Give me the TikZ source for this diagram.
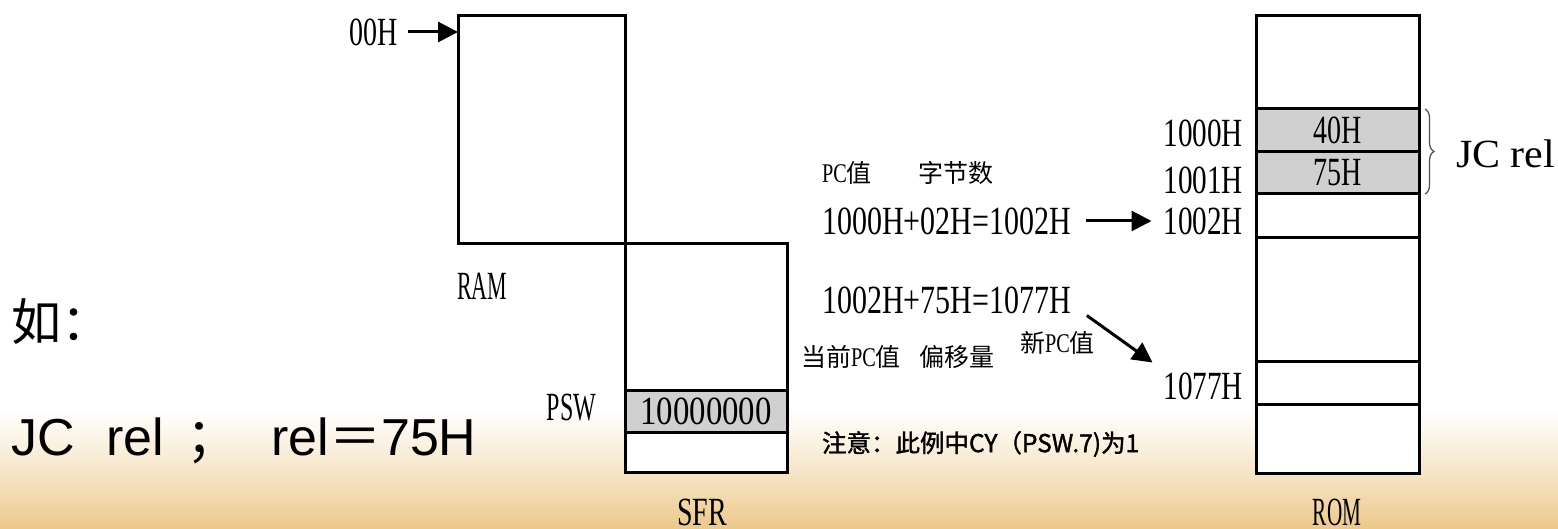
\documentclass[tikz,border=0pt]{standalone}
\usepackage{fontspec}
\usepackage{graphicx}
\setmainfont{Liberation Serif}
\newfontfamily\cjk{Noto Sans CJK SC}
\newfontfamily\cjkb[FakeBold=1.5]{Noto Sans CJK SC}
\newfontfamily\sansf{Liberation Sans}
\usetikzlibrary{arrows.meta,decorations.pathreplacing}
\definecolor{peach}{RGB}{236,201,140}
\definecolor{peachmid}{RGB}{248,234,210}
\definecolor{cellgray}{RGB}{208,208,208}
\newcommand\sq[2]{\scalebox{#1}[1]{#2}}
\newcommand\pcx{{\rmfamily\fontsize{27}{27}\selectfont\sq{0.75}{PC}}}
\begin{document}
\begin{tikzpicture}[x=1pt,y=-1pt,
  box/.style={draw, line width=3pt, fill=white, rectangle, inner sep=0pt, outer sep=0pt},
  cell/.style={draw, line width=3pt, fill=cellgray, rectangle, inner sep=0pt, outer sep=0pt, font=\fontsize{40}{40}\selectfont},
  lbl/.style={inner sep=0pt, outer sep=0pt, font=\fontsize{40}{40}\selectfont},
  clbl/.style={inner sep=0pt, outer sep=0pt, font=\cjk\fontsize{25}{25}\selectfont},
  arr/.style={line width=3pt, -{Triangle[length=20pt,width=20pt]}},
  rule/.style={line width=3pt},
]
\useasboundingbox (0,0) rectangle (1558,529);
\fill[white] (0,0) rectangle (1558,529);
\shade[top color=white, bottom color=peachmid] (0,410) rectangle (1558,462);
\shade[top color=peachmid, bottom color=peach] (0,461.5) rectangle (1558,529);

% RAM and SFR
\node[box, minimum width=167pt, minimum height=228pt] (ram) at (541.5,130) {};
\node[box, minimum width=162pt, minimum height=228pt] (sfr) at (706,358) {};
\node[cell, minimum width=162pt, minimum height=42pt] (psw) at (706,411) {\sq{0.82}{10000000}};

\node[lbl, anchor=east] (t00) at (398,32) {\sq{0.7}{00H}};
\draw[arr] ([xshift=10pt]t00.east) -- (ram.west |- t00.east);
\node[lbl, anchor=west] (tram) at (457,286) {\sq{0.55}{RAM}};
\node[lbl, anchor=east] (tpsw) at (596,408) {\sq{0.6}{PSW}};
\node[lbl] (tsfr) at (702,512) {\sq{0.7}{SFR}};

% ROM
\node[box, minimum width=163pt, minimum height=457pt] (rom) at (1337.5,244.5) {};
\node[cell, minimum width=163pt, minimum height=43pt] (c40) at (1337.5,130.5) {\sq{0.7}{40H}};
\node[cell, minimum width=163pt, minimum height=42pt] (c75) at (1337.5,173) {\sq{0.7}{75H}};
\draw[rule] (1256,238) -- (1419,238);
\draw[rule] (1256,361) -- (1419,361);
\draw[rule] (1256,404) -- (1419,404);
\node[lbl] (trom) at (1337,512) {\sq{0.53}{ROM}};

\node[lbl, anchor=east] (a1000) at (1243,133) {\sq{0.73}{1000H}};
\node[lbl, anchor=east] (a1001) at (1243,180) {\sq{0.73}{1001H}};
\node[lbl, anchor=east] (a1002) at (1243,221) {\sq{0.73}{1002H}};
\node[lbl, anchor=east] (a1077) at (1243,386) {\sq{0.73}{1077H}};

\draw[decorate, decoration={brace, amplitude=9pt}, line width=1.2pt, draw=black!70] (1425,109) -- (1425,194);
\node[lbl, anchor=west] (jcr) at (1456,154) {\sq{1.05}{JC rel}};

% middle
\node[clbl, anchor=west] (pcv) at (822,173) {\pcx 值};
\node[clbl, anchor=west] (zjs) at (918,173) {字节数};
\node[lbl, anchor=west] (eq1) at (822,221) {\sq{0.75}{1000H+02H=1002H}};
\draw[arr] ([xshift=15pt]eq1.east) -- ([xshift=-12pt]a1002.west);
\node[lbl, anchor=west] (eq2) at (822,300) {\sq{0.75}{1002H+75H=1077H}};
\node[clbl, anchor=west] (dq) at (801,357) {当前\pcx 值};
\node[clbl, anchor=west] (pyl) at (919,357) {偏移量};
\node[clbl, anchor=west] (xpc) at (1020,343) {新\pcx 值};
\draw[arr] ([shift={(16,2)}]eq2.south east) -- ([shift={(-11,-10)}]a1077.north west);
\node[inner sep=0pt, outer sep=0pt, anchor=west, font=\cjkb\fontsize{24.5}{24.5}\selectfont] (note) at (822,444) {注意：此例中CY（PSW.7)为1};

% left
\node[inner sep=0pt, outer sep=0pt, anchor=west, font=\cjk\fontsize{50}{50}\selectfont] (ru) at (12,322) {如：};
\node[inner sep=0pt, outer sep=0pt, anchor=base west, font=\sansf\fontsize{52}{52}\selectfont] (jc) at (12,455) {JC\hspace{31pt}rel\hspace{22pt}{\cjk ；}\hspace{33pt}rel{\cjk ＝}75H};
\end{tikzpicture}
\end{document}
